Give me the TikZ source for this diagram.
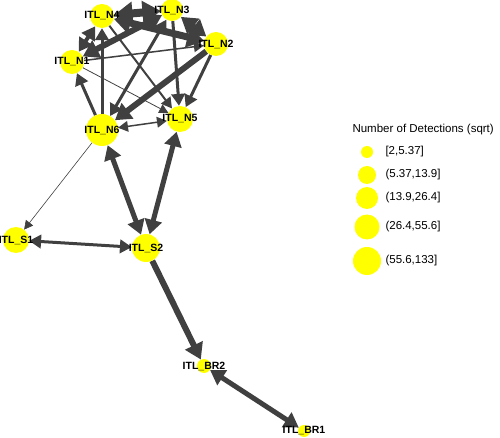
\documentclass[tikz,border=0pt]{standalone}
\usepackage{fontspec}
\setmainfont{Liberation Sans}
\usepackage{tikz}
\usetikzlibrary{arrows.meta, backgrounds, positioning}
\definecolor{nodeyellow}{HTML}{FFFF00}
\definecolor{edgegray}{HTML}{404040}

\begin{document}
\begin{tikzpicture}[x=1pt, y=-1pt,
                station/.style={circle, fill=nodeyellow, inner sep=0pt, minimum size=#1},
                stlabel/.style={font=\fontsize{10.5}{11}\selectfont\bfseries, text=black},
                link/.style={draw=edgegray, line width=#1, -{Triangle[length=8pt 1.3, width=8pt 1.8]}},
                dlink/.style={draw=edgegray, line width=#1, {Triangle[length=8pt 1.3, width=8pt 1.8]}-{Triangle[length=8pt 1.3, width=8pt 1.8]}},
                legtext/.style={font=\fontsize{11.5}{13}\selectfont, anchor=west}
            ]
            \useasboundingbox (0,0) rectangle (500,438);

            % Stationen
            \node[station=24pt, label={[stlabel]center:ITL\_N4}] (N4) at (102,16) {};
            \node[station=22pt, label={[stlabel]center:ITL\_N3}] (N3) at (172,10) {};
            \node[station=24pt, label={[stlabel]center:ITL\_N2}] (N2) at (216,44) {};
            \node[station=24pt, label={[stlabel]center:ITL\_N1}] (N1) at (72,62) {};
            \node[station=32pt, label={[stlabel]center:ITL\_N6}] (N6) at (102,130) {};
            \node[station=26pt, label={[stlabel]center:ITL\_N5}] (N5) at (180,119) {};
            \node[station=26pt, label={[stlabel]center:ITL\_S1}] (S1) at (16,240) {};
            \node[station=28pt, label={[stlabel]center:ITL\_S2}] (S2) at (146,248) {};
            \node[station=14pt, label={[stlabel]center:ITL\_BR2}] (BR2) at (204,366) {};
            \node[station=12pt, label={[stlabel]center:ITL\_BR1}] (BR1) at (304,431) {};

            % Kanten
            \begin{scope}[on background layer]
                \draw[dlink=8pt] (N4) -- (N3);
                \draw[dlink=6pt] (N3) -- (N2);
                \draw[dlink=7pt] (N4) -- (N2);
                \draw[dlink=6pt] (N1) -- (N3);
                \draw[dlink=4pt] (N4) -- (N1);
                \draw[link=1.5pt] (N1) -- (N2);
                \draw[link=3pt] (N6) -- (N4);
                \draw[link=3pt] (N6) -- (N1);
                \draw[dlink=3pt] (N6) -- (N3);
                \draw[link=6pt] (N2) -- (N6);
                \draw[link=3pt] (N3) -- (N5);
                \draw[link=2pt] (N4) -- (N5);
                \draw[link=3pt] (N2) -- (N5);
                \draw[link=0.8pt] (N1) -- (N5);
                \draw[dlink=1.5pt] (N6) -- (N5);
                \draw[dlink=5pt] (N6) -- (S2);
                \draw[dlink=5pt] (N5) -- (S2);
                \draw[link=0.6pt] (N6) -- (S1);
                \draw[dlink=3pt] (S1) -- (S2);
                \draw[link=6pt] (S2) -- (BR2);
                \draw[dlink=5pt] (BR2) -- (BR1);
            \end{scope}

            % Legende
            \node[legtext] (legtitle) at (349,130) {Number of Detections (sqrt)};
            \node[station=12pt] (L1) at (367,152) {};
            \node[station=18pt] (L2) at (367,175) {};
            \node[station=22pt] (L3) at (367,198) {};
            \node[station=25pt] (L4) at (367,227) {};
            \node[station=28pt] (L5) at (367,261) {};
            \node[legtext] at (382,152) {[2,5.37]};
            \node[legtext] at (382,175) {(5.37,13.9]};
            \node[legtext] at (382,198) {(13.9,26.4]};
            \node[legtext] at (382,227) {(26.4,55.6]};
            \node[legtext] at (382,261) {(55.6,133]};

        \end{tikzpicture}
\end{document}
